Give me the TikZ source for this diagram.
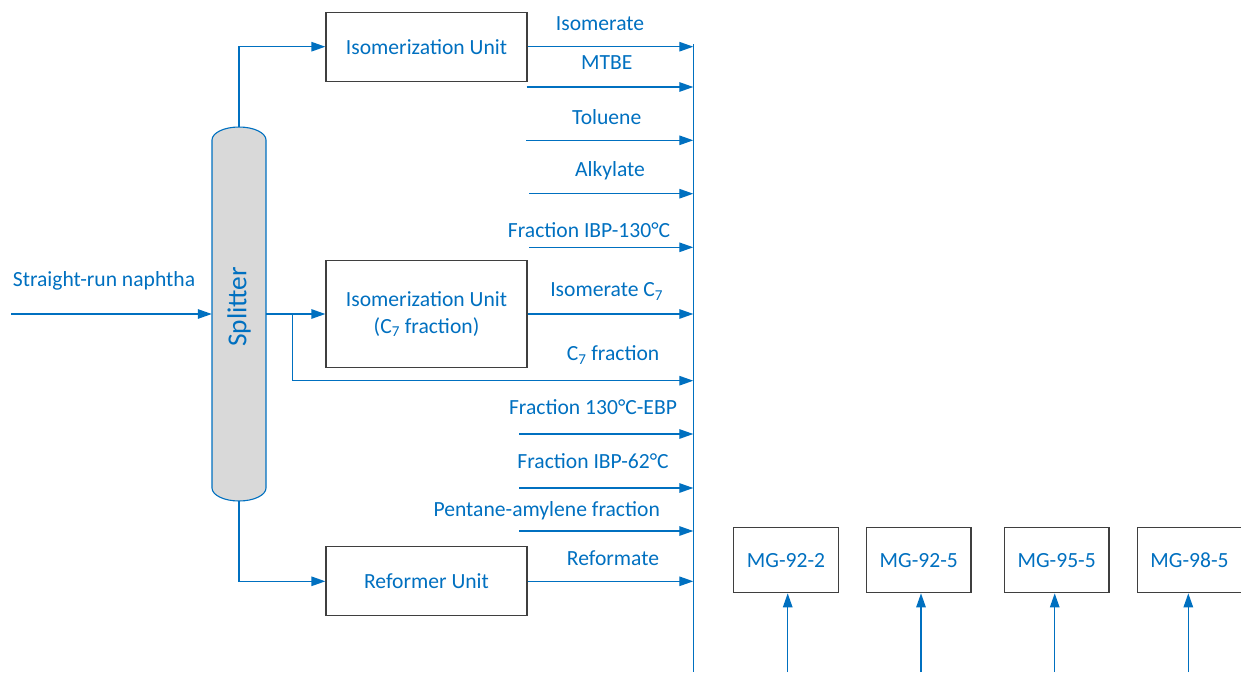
\documentclass[tikz,border=0pt]{standalone}
\usepackage{fontspec}
\setmainfont{Carlito}
\usetikzlibrary{arrows.meta}
\definecolor{cblue}{HTML}{0070C0}
\definecolor{cbord}{HTML}{3F3F3F}
\definecolor{cfill}{HTML}{D9D9D9}
\begin{document}
\begin{tikzpicture}[x=1pt,y=-1pt,
  txt/.style={text=cblue,font=\fontsize{21.6}{24}\selectfont,inner sep=0pt},
  unitbox/.style={draw=cbord,line width=1.3pt,fill=white,minimum width=201pt,minimum height=69pt,inner sep=0pt,align=center,text=cblue,font=\fontsize{21.6}{27}\selectfont},
  mgbox/.style={draw=cbord,line width=1.3pt,fill=white,minimum width=104.6pt,minimum height=65pt,inner sep=0pt,text=cblue,font=\fontsize{21.6}{24}\selectfont},
  flow/.style={draw=cblue,line width=1.3pt,-{Triangle[length=14pt,width=9.5pt]}},
  pipe/.style={draw=cblue,line width=1.3pt}]
\useasboundingbox (0,0) rectangle (1241,672);
% splitter
\node[minimum width=54pt,minimum height=374pt,inner sep=0pt] (splitter) at (239,314) {};
\draw[draw=cblue,line width=1.1pt,fill=cfill] (212,140) arc[start angle=180,end angle=0,x radius=27pt,y radius=13pt] -- (266,488) arc[start angle=0,end angle=-180,x radius=27pt,y radius=13pt] -- cycle;
\node[txt,rotate=90,font=\fontsize{27.4}{30}\selectfont] (splab) at (239,307) {Splitter};
% unit boxes
\node[unitbox] (iso1) at (426.5,46.7) {Isomerization Unit};
\node[unitbox,minimum height=106.6pt] (iso2) at (426.5,314) {Isomerization Unit\\(C\textsubscript{7} fraction)};
\node[unitbox] (ref) at (426.5,581.3) {Reformer Unit};
% MG boxes
\node[mgbox] (mg1) at (786,560.2) {MG-92-2};
\node[mgbox] (mg2) at (918.8,560.2) {MG-92-5};
\node[mgbox] (mg3) at (1056.7,560.2) {MG-95-5};
\node[mgbox] (mg4) at (1189.5,560.2) {MG-98-5};
% bus
\coordinate (busTop) at (693.3,44);
\coordinate (busBot) at (693.3,672);
\draw[pipe] (busTop) -- (busBot);
% feed
\coordinate (feed) at (11,314);
\draw[flow] (feed) -- (splitter.west);
\node[txt] (feedlab) at (104,281) {Straight-run naphtha};
% splitter outlets
\draw[flow] (splitter.north) |- (iso1.west);
\draw[flow] (splitter.south) |- (ref.west);
\draw[flow] (splitter.east) -- (iso2.west);
\coordinate (br) at (292.3,314);
\coordinate (c7end) at (693.3,380.7);
\draw[flow] (br) |- (c7end);
% outputs to bus
\coordinate (e1) at (693.3,46.7);
\draw[flow] (iso1.east) -- (e1);
\node[txt] (l1) at (600,23.5) {Isomerate};
\coordinate (s2) at (526.7,87); \coordinate (e2) at (693.3,87);
\draw[flow] (s2) -- (e2);
\node[txt] (l2) at (606.7,63) {MTBE};
\coordinate (s3) at (526,140.3); \coordinate (e3) at (693.3,140.3);
\draw[flow] (s3) -- (e3);
\node[txt] (l3) at (606.7,116.7) {Toluene};
\coordinate (s4) at (529.3,193.7); \coordinate (e4) at (693.3,193.7);
\draw[flow] (s4) -- (e4);
\node[txt] (l4) at (610,170.5) {Alkylate};
\coordinate (s5) at (529.3,247.3); \coordinate (e5) at (693.3,247.3);
\draw[flow] (s5) -- (e5);
\node[txt] (l5) at (589,230) {Fraction IBP-130°C};
\coordinate (e6) at (693.3,314);
\draw[flow] (iso2.east) -- (e6);
\node[txt] (l6) at (606.7,291.5) {Isomerate C\textsubscript{7}};
\node[txt] (l7) at (613,355) {C\textsubscript{7} fraction};
\coordinate (s8) at (519.3,434); \coordinate (e8) at (693.3,434);
\draw[flow] (s8) -- (e8);
\node[txt] (l8) at (593,406.7) {Fraction 130°C-EBP};
\coordinate (s9) at (519.3,488); \coordinate (e9) at (693.3,488);
\draw[flow] (s9) -- (e9);
\node[txt] (l9) at (593,460.7) {Fraction IBP-62°C};
\coordinate (s10) at (519.3,531); \coordinate (e10) at (693.3,531);
\draw[flow] (s10) -- (e10);
\node[txt] (l10) at (546.7,511) {Pentane-amylene fraction};
\coordinate (e11) at (693.3,581.3);
\draw[flow] (ref.east) -- (e11);
\node[txt] (l11) at (613,558.3) {Reformate};
% MG feeds
\coordinate (m1) at (787.7,672); \draw[flow] (m1) -- (m1 |- mg1.south);
\coordinate (m2) at (921,672); \draw[flow] (m2) -- (m2 |- mg2.south);
\coordinate (m3) at (1054.7,672); \draw[flow] (m3) -- (m3 |- mg3.south);
\coordinate (m4) at (1188.3,672); \draw[flow] (m4) -- (m4 |- mg4.south);
\end{tikzpicture}
\end{document}
